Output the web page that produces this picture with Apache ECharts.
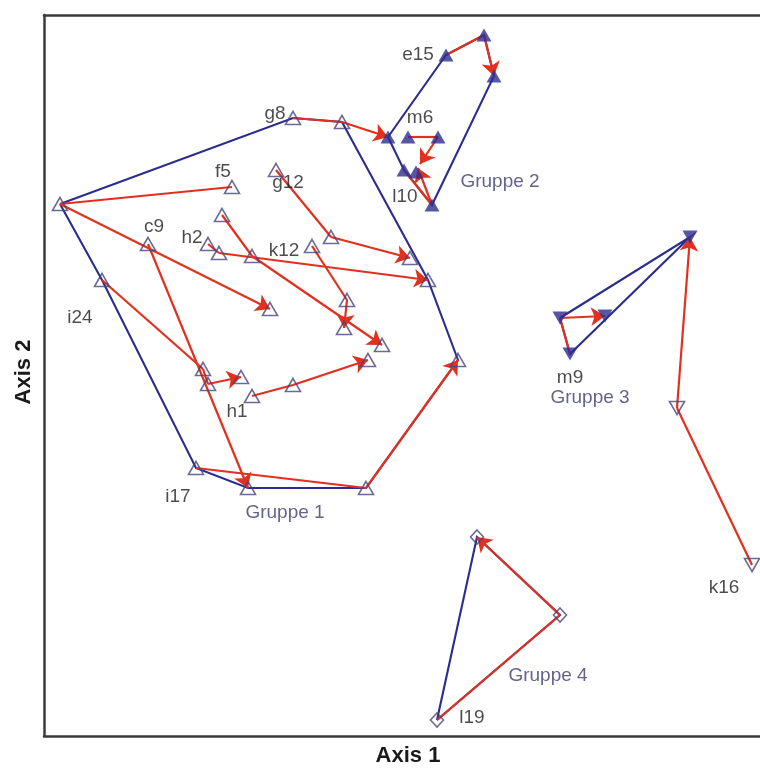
<!DOCTYPE html>
<html>
<head>
<meta charset="utf-8">
<script src="https://cdn.jsdelivr.net/npm/echarts@6/dist/echarts.min.js"></script>
<style>
  html, body { margin: 0; padding: 0; background: #ffffff; }
  #chart { width: 760px; height: 770px; }
</style>
</head>
<body>
<div id="chart"></div>
<script>
// Ordination scores (Axis 1, Axis 2) of the sampled sites, per group.
const gruppe1 = [
  [16, 532], [249, 618], [298, 614], [188, 549], [232, 566], [178, 521],
  [104, 492], [164, 492], [175, 483], [208, 480], [268, 490], [287, 499],
  [58, 456], [226, 427], [303, 436], [300, 408], [338, 391], [366, 478],
  [384, 456], [159, 367], [164, 352], [197, 359], [208, 340], [249, 351],
  [324, 376], [414, 376], [152, 268], [204, 248], [322, 248]
];
const gruppe2 = [
  [402, 681], [440, 701], [450, 660], [344, 599], [364, 599], [394, 599],
  [360, 566], [372, 564], [388, 531]
];
const gruppe3 = [[516, 418], [561, 420], [526, 382], [646, 499]];
const k16Sites = [[633, 328], [708, 171]];
const gruppe4 = [[433, 199], [516, 121], [393, 16]];

// Successional trajectories of single sites (arrow on the last step).
const trajectories = [
  [[249, 618], [298, 614], [344, 599]],
  [[188, 549], [16, 532], [226, 427]],
  [[232, 566], [287, 499], [366, 478]],
  [[164, 492], [175, 483], [384, 456]],
  [[178, 521], [208, 480], [338, 391]],
  [[268, 490], [303, 436], [300, 408]],
  [[104, 492], [204, 248]],
  [[58, 456], [159, 367], [164, 352], [197, 359]],
  [[208, 340], [249, 351], [324, 376]],
  [[152, 268], [322, 248], [414, 376]],
  [[402, 681], [440, 701], [450, 660]],
  [[364, 599], [394, 599], [376, 572]],
  [[360, 566], [388, 531], [374, 568]],
  [[526, 382], [516, 418], [561, 420]],
  [[708, 171], [633, 328], [646, 499]],
  [[393, 16], [516, 121], [433, 199]]
];

// Group outlines.
const hulls = [
  [[16, 532], [249, 618], [298, 614], [384, 456], [414, 376], [322, 248], [204, 248], [152, 268], [58, 456], [16, 532]],
  [[344, 599], [402, 681], [440, 701], [450, 660], [388, 531], [360, 566], [344, 599]],
  [[516, 418], [646, 499], [526, 382], [516, 418]],
  [[393, 16], [433, 199], [516, 121], [393, 16]]
];

// Site names and group names with their anchor points.
const siteNames = [
  ['g8', 231, 622], ['e15', 374, 681], ['m6', 376, 618], ['l10', 361, 539],
  ['f5', 179, 564], ['g12', 244, 553], ['c9', 110, 509], ['h2', 148, 498],
  ['k12', 240, 485], ['i24', 36, 418], ['h1', 193, 324], ['i17', 134, 239],
  ['m9', 526, 358], ['k16', 680, 148], ['l19', 428, 18]
];
const groupNames = [
  ['Gruppe 1', 241, 223], ['Gruppe 2', 456, 554],
  ['Gruppe 3', 546, 338], ['Gruppe 4', 504, 60]
];

const axisTitles = ['Axis 1', 'Axis 2'];

const NAVY = '#2b2d8e';
const OPEN_EDGE = '#46437c';
const RED = '#e2301e';
const FRAME = '#3a3a3a';

const plainSteps = [];
const lastSteps = [];
trajectories.forEach(path => {
  for (let i = 0; i < path.length - 1; i++) {
    const seg = { coords: [path[i], path[i + 1]] };
    if (i === path.length - 2) lastSteps.push(seg); else plainSteps.push(seg);
  }
});

const chart = echarts.init(document.getElementById('chart'), null, { renderer: 'canvas' });

const openMarker = {
  color: 'rgba(255,255,255,0)',
  borderColor: OPEN_EDGE,
  borderWidth: 1.6
};
const frameLine = { show: true, onZero: false, lineStyle: { color: FRAME, width: 2.5 } };
const bareAxis = {
  type: 'value', axisTick: { show: false }, axisLabel: { show: false }, splitLine: { show: false }
};
const labelFont = '"Liberation Sans", Arial, sans-serif';

chart.setOption({
  animation: false,
  backgroundColor: '#ffffff',
  grid: { left: 44, top: 15, right: 0, bottom: 34 },
  xAxis: [
    Object.assign({ min: 0, max: 716, position: 'bottom', axisLine: frameLine }, bareAxis),
    Object.assign({ min: 0, max: 716, position: 'top', axisLine: frameLine }, bareAxis)
  ],
  yAxis: [
    Object.assign({ min: 0, max: 721, position: 'left', axisLine: frameLine }, bareAxis)
  ],
  graphic: [
    {
      type: 'text', x: 408, y: 756,
      style: { text: axisTitles[0], font: 'bold 22px ' + labelFont, fill: '#1a1a1a',
               align: 'center', verticalAlign: 'middle' }
    },
    {
      type: 'text', x: 24, y: 372, rotation: Math.PI / 2,
      style: { text: axisTitles[1], font: 'bold 22px ' + labelFont, fill: '#1a1a1a',
               align: 'center', verticalAlign: 'middle' }
    }
  ],
  series: [
    {
      type: 'lines', coordinateSystem: 'cartesian2d', polyline: true, z: 2,
      lineStyle: { color: NAVY, width: 2.1, opacity: 1 },
      data: hulls.map(h => ({ coords: h }))
    },
    {
      type: 'lines', coordinateSystem: 'cartesian2d', z: 3,
      symbol: ['none', 'none'],
      lineStyle: { color: RED, width: 2.2, opacity: 1 },
      data: plainSteps
    },
    {
      type: 'lines', coordinateSystem: 'cartesian2d', z: 3,
      symbol: ['none', 'arrow'], symbolSize: 14,
      lineStyle: { color: RED, width: 2.2, opacity: 1 },
      data: lastSteps
    },
    {
      type: 'scatter', z: 4, symbol: 'triangle', symbolSize: [15, 13],
      itemStyle: openMarker, data: gruppe1
    },
    {
      type: 'scatter', z: 4, symbol: 'triangle', symbolSize: [15, 13],
      itemStyle: { color: NAVY }, data: gruppe2
    },
    {
      type: 'scatter', z: 4, symbol: 'triangle', symbolRotate: 180, symbolSize: [15, 13],
      itemStyle: { color: NAVY }, data: gruppe3
    },
    {
      type: 'scatter', z: 4, symbol: 'triangle', symbolRotate: 180, symbolSize: [15, 13],
      itemStyle: openMarker, data: k16Sites
    },
    {
      type: 'scatter', z: 4, symbol: 'diamond', symbolSize: [13, 14],
      itemStyle: openMarker, data: gruppe4
    },
    {
      type: 'scatter', z: 5, symbolSize: 0, silent: true,
      label: {
        show: true, position: 'inside', formatter: p => p.name,
        color: '#1e1e1e', fontSize: 19, fontFamily: labelFont
      },
      data: siteNames.map(d => ({ name: d[0], value: [d[1], d[2]] }))
    },
    {
      type: 'scatter', z: 5, symbolSize: 0, silent: true,
      label: {
        show: true, position: 'inside', formatter: p => p.name,
        color: '#3b3b6e', fontSize: 19, fontFamily: labelFont
      },
      data: groupNames.map(d => ({ name: d[0], value: [d[1], d[2]] }))
    }
  ]
});
</script>
</body>
</html>
